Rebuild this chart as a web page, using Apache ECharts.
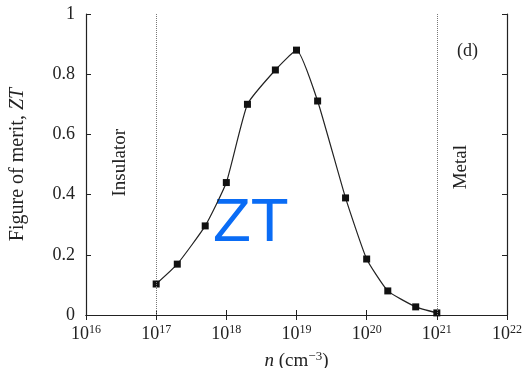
<!DOCTYPE html>
<html>
<head>
<meta charset="utf-8">
<script src="https://cdn.jsdelivr.net/npm/echarts@6/dist/echarts.min.js"></script>
<style>
html,body{margin:0;padding:0;background:#fff;}
#chart{width:528px;height:368px;}
</style>
</head>
<body>
<div id="chart"></div>
<script>
// carrier concentration n (cm^-3)
var concentrations = [1e17, 2e17, 5e17, 1e18, 2e18, 5e18, 1e19, 2e19, 5e19, 1e20, 2e20, 5e20, 1e21];
// figure of merit ZT
var ztValues = [0.103, 0.169, 0.296, 0.44, 0.70, 0.814, 0.88, 0.711, 0.389, 0.186, 0.08, 0.027, 0.007];
var yTicks = [0, 0.2, 0.4, 0.6, 0.8, 1];
var regionBounds = [1e17, 1e21];
var regionLabels = ['Insulator', 'Metal'];
var panelLabel = '(d)';
var overlayLabel = 'ZT';

var serif = '"Liberation Serif", "DejaVu Serif", serif';
var axisColor = '#222';

var chart = echarts.init(document.getElementById('chart'));

function expLabel(v) {
  return '10{sup|' + Math.round(Math.log10(v)) + '}';
}

var option = {
  backgroundColor: '#fff',
  animation: false,
  grid: { left: 86, right: 21, top: 14, bottom: 53, containLabel: false, outerBoundsMode: 'none' },
  xAxis: [{
    type: 'log', logBase: 10, min: 1e16, max: 1e22,
    position: 'bottom',
    axisLine: { lineStyle: { color: axisColor, width: 1.2 } },
    axisTick: { inside: true, length: 5, lineStyle: { color: axisColor } },
    minorTick: { show: false },
    splitLine: { show: false },
    axisLabel: {
      margin: 9,
      formatter: expLabel,
      color: '#222',
      fontFamily: serif,
      fontSize: 18,
      rich: {
        sup: { fontSize: 12, fontFamily: serif, color: '#222', verticalAlign: 'top', padding: [0, 0, 9, 0] }
      }
    },
    name: '{i|n} (cm{sup|\u22123})',
    nameLocation: 'middle',
    nameGap: 35,
    nameTextStyle: {
      fontFamily: serif, fontSize: 19, color: '#222',
      rich: {
        i: { fontStyle: 'italic', fontFamily: serif, fontSize: 19, color: '#222' },
        sup: { fontSize: 13, fontFamily: serif, color: '#222', verticalAlign: 'top', padding: [0, 0, 9, 0] }
      }
    }
  }, {
    type: 'log', logBase: 10, min: 1e16, max: 1e22,
    position: 'top',
    axisLine: { lineStyle: { color: axisColor, width: 1.2 } },
    axisTick: { inside: true, length: 5, lineStyle: { color: axisColor } },
    axisLabel: { show: false },
    splitLine: { show: false }
  }],
  yAxis: [{
    type: 'value', min: 0, max: 1, interval: 0.2,
    position: 'left',
    axisLine: { show: true, lineStyle: { color: axisColor, width: 1.2 } },
    axisTick: { show: true, inside: true, length: 5, lineStyle: { color: axisColor } },
    splitLine: { show: false },
    axisLabel: {
      margin: 11, color: '#222', fontFamily: serif, fontSize: 18,
      formatter: function (v) {
        for (var k = 0; k < yTicks.length; k++) if (Math.abs(yTicks[k] - v) < 1e-9) return String(yTicks[k]);
        return '';
      }
    },
    name: 'Figure of merit, {i|ZT}',
    nameLocation: 'middle',
    nameGap: 58,
    nameTextStyle: {
      fontFamily: serif, fontSize: 20, color: '#222',
      rich: { i: { fontStyle: 'italic', fontFamily: serif, fontSize: 20, color: '#222' } }
    }
  }, {
    type: 'value', min: 0, max: 1, interval: 0.2,
    position: 'right',
    axisLine: { show: true, lineStyle: { color: axisColor, width: 1.2 } },
    axisTick: { show: true, inside: true, length: 5, lineStyle: { color: axisColor } },
    axisLabel: { show: false },
    splitLine: { show: false }
  }],
  series: [{
    type: 'line',
    xAxisIndex: 0, yAxisIndex: 0,
    data: concentrations.map(function (c, i) { return [c, ztValues[i]]; }),
    smooth: 0.15,
    symbol: 'rect',
    symbolSize: 7,
    itemStyle: { color: '#111' },
    lineStyle: { color: '#222', width: 1.2 },
    markLine: {
      silent: true,
      symbol: ['none', 'none'],
      label: { show: false },
      lineStyle: { type: 'dotted', color: '#777', width: 1 },
      data: regionBounds.map(function (b) { return { xAxis: b }; })
    },
    z: 3
  }],
  graphic: [
    { type: 'text', left: 111, top: 129, rotation: Math.PI / 2, style: { text: regionLabels[0], font: '19px ' + serif, fill: '#222' } },
    { type: 'text', left: 452, top: 145, rotation: Math.PI / 2, style: { text: regionLabels[1], font: '19px ' + serif, fill: '#222' } },
    { type: 'text', left: 457, top: 42, style: { text: panelLabel, font: '18px ' + serif, fill: '#222' } },
    { type: 'text', left: 213, top: 193, style: { text: overlayLabel, font: '62px "Liberation Sans", Arial, sans-serif', fill: '#0a6cf5' } }
  ]
};
chart.setOption(option);
</script>
</body>
</html>
